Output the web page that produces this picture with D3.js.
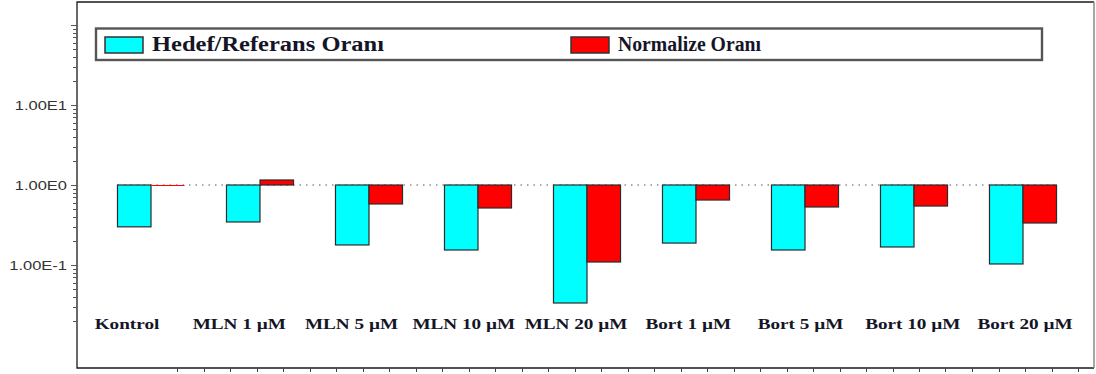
<!DOCTYPE html>
<html>
<head>
<meta charset="utf-8">
<script src="https://cdn.jsdelivr.net/npm/d3@7"></script>
<style>
  html, body { margin: 0; padding: 0; background: #fff; }
  svg { display: block; }
</style>
</head>
<body>
<svg id="chart" width="1096" height="374"></svg>
<script>
// Gene expression ratios per treatment (log scale)
const categories = ["Kontrol", "MLN 1 µM", "MLN 5 µM", "MLN 10 µM", "MLN 20 µM",
                    "Bort 1 µM", "Bort 5 µM", "Bort 10 µM", "Bort 20 µM"];
const seriesNames = ["Hedef/Referans Oranı", "Normalize Oranı"];
const hedefReferans = [0.30, 0.345, 0.178, 0.154, 0.0335, 0.188, 0.154, 0.168, 0.103];
const normalizeOrani = [1.0, 1.155, 0.579, 0.516, 0.109, 0.649, 0.531, 0.546, 0.335];
const yTickValues = [10, 1, 0.1];
const yTickLabels = ["1.00E1", "1.00E0", "1.00E-1"];

const colors = ["#00ffff", "#ff0000"];
const svg = d3.select("#chart");

const frame = { left: 77, right: 1094, top: 2, bottom: 368 };

// Log value axis, baseline at 1
const y = d3.scaleLog()
  .domain([Math.pow(10, -2.2875), Math.pow(10, 2.2875)])
  .range([frame.bottom, frame.top]);

const x = d3.scaleBand()
  .domain(categories)
  .range([96.5, 1077.5])
  .paddingInner(0.385)
  .paddingOuter(0.1925);

const xInner = d3.scaleBand()
  .domain(seriesNames)
  .range([0, x.bandwidth()]);

const xLabel = d3.scalePoint()
  .domain(categories)
  .range([127, 1025]);

// Plot frame
svg.append("rect")
  .attr("x", frame.left).attr("y", frame.top)
  .attr("width", frame.right - frame.left).attr("height", frame.bottom - frame.top)
  .attr("fill", "#fff").attr("stroke", "none");
svg.append("path")
  .attr("d", `M${frame.right},${frame.top}H${frame.left}V${frame.bottom}H${frame.right}`)
  .attr("fill", "none").attr("stroke", "#1a1a1a").attr("stroke-width", 1.3);
svg.append("line")
  .attr("x1", frame.right).attr("x2", frame.right)
  .attr("y1", frame.top).attr("y2", frame.bottom)
  .attr("stroke", "#8a8a8a").attr("stroke-width", 1.5);

// Log ticks on the value axis
const logTicks = [];
for (let e = -2; e <= 1; e++) {
  for (let m = 1; m <= 9; m++) logTicks.push({ v: m * Math.pow(10, e), major: m === 1 });
}
logTicks.push({ v: 100, major: true });
svg.append("g").selectAll("line")
  .data(logTicks.filter(d => y(d.v) >= 24 && y(d.v) <= 336))
  .join("line")
  .attr("x1", d => frame.left - (d.major ? 6 : 4))
  .attr("x2", frame.left)
  .attr("y1", d => Math.round(y(d.v)) + 0.5)
  .attr("y2", d => Math.round(y(d.v)) + 0.5)
  .attr("stroke", "#555").attr("stroke-width", 1);

// Value labels
svg.append("g").selectAll("text")
  .data(yTickValues)
  .join("text")
  .attr("transform", d => `translate(67,${y(d)}) scale(1.27,1)`)
  .attr("dy", "0.36em")
  .attr("text-anchor", "end")
  .attr("font-family", "'Liberation Sans', Arial, sans-serif")
  .attr("font-size", 13)
  .attr("fill", "#333")
  .text((d, i) => yTickLabels[i]);

// Ruler ticks along the bottom edge
const ruler = d3.scaleLinear().domain([0, 34]).range([177, 1078]);
svg.append("g").selectAll("line")
  .data(ruler.ticks(34))
  .join("line")
  .attr("x1", d => Math.round(ruler(d)) + 0.5)
  .attr("x2", d => Math.round(ruler(d)) + 0.5)
  .attr("y1", frame.bottom)
  .attr("y2", frame.bottom + 4)
  .attr("stroke", "#444");

// Dotted reference line at ratio 1
svg.append("line")
  .attr("x1", x(categories[0]))
  .attr("x2", x(categories[categories.length - 1]) + x.bandwidth())
  .attr("y1", y(1)).attr("y2", y(1))
  .attr("stroke", "#555").attr("stroke-width", 1.2)
  .attr("stroke-dasharray", "1.5,5");

// Bars hang from the baseline at 1
const rows = categories.map((c, i) => ({
  category: c,
  values: [hedefReferans[i], normalizeOrani[i]]
}));
const groups = svg.append("g").selectAll("g")
  .data(rows)
  .join("g")
  .attr("transform", d => `translate(${x(d.category)},0)`);
groups.selectAll("rect")
  .data(d => d.values.map((v, j) => ({ v, j })))
  .join("rect")
  .attr("x", d => xInner(seriesNames[d.j]))
  .attr("width", xInner.bandwidth())
  .attr("y", d => Math.min(y(d.v), y(1)))
  .attr("height", d => Math.max(Math.abs(y(d.v) - y(1)), 1))
  .attr("fill", d => colors[d.j])
  .attr("stroke", d => Math.abs(y(d.v) - y(1)) > 1 ? "#2b2b2b" : "none")
  .attr("stroke-width", 1.2);

// Category labels
svg.append("g").selectAll("text")
  .data(categories)
  .join("text")
  .attr("transform", d => `translate(${xLabel(d)},328.5) scale(1.37,1)`)
  .attr("text-anchor", "middle")
  .attr("font-family", "'Liberation Serif', 'Times New Roman', serif")
  .attr("font-weight", "bold")
  .attr("font-size", 14)
  .attr("fill", "#151528")
  .text(d => d);

// Legend
const legend = svg.append("g");
legend.append("rect")
  .attr("x", 96).attr("y", 28.5)
  .attr("width", 946).attr("height", 31.5)
  .attr("fill", "#fff").attr("stroke", "#555").attr("stroke-width", 2.4);
const legendItems = [
  { name: seriesNames[0], sx: 105, tx: 152, tw: 232 },
  { name: seriesNames[1], sx: 571, tx: 618, tw: 143 }
];
legendItems.forEach((it, i) => {
  legend.append("rect")
    .attr("x", it.sx).attr("y", 37)
    .attr("width", 38).attr("height", 16)
    .attr("fill", colors[i]).attr("stroke", "#333").attr("stroke-width", 1.5);
  legend.append("text")
    .attr("x", it.tx).attr("y", 51)
    .attr("font-family", "'Liberation Serif', 'Times New Roman', serif")
    .attr("font-weight", "bold")
    .attr("font-size", 20)
    .attr("fill", "#151528")
    .attr("textLength", it.tw)
    .attr("lengthAdjust", "spacingAndGlyphs")
    .text(it.name);
});
</script>
</body>
</html>
